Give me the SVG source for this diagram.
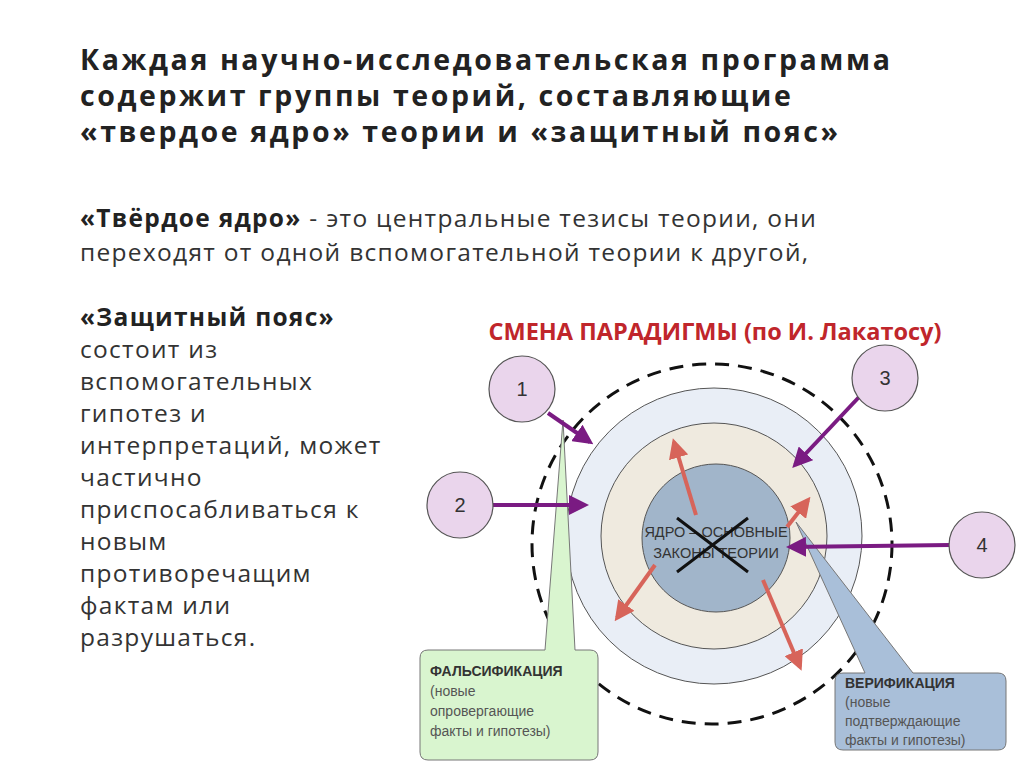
<svg xmlns="http://www.w3.org/2000/svg" width="1024" height="767" viewBox="0 0 1024 767">
<defs>
<style>
.h{font-family:"Open Sans","Liberation Sans",sans-serif;font-weight:bold;font-size:28.5px;letter-spacing:2.6px;fill:#222}
.b{font-family:"Open Sans","Liberation Sans",sans-serif;font-size:24.5px;letter-spacing:1.3px;fill:#333}
.bb{font-weight:bold;fill:#222}
.n{fill:#ead5ec;stroke:#555;stroke-width:1.2}
.nt{font-family:"Liberation Sans",sans-serif;font-size:20px;fill:#333;text-anchor:middle}
.pa{stroke:#7a1b82;stroke-width:4;marker-end:url(#pm)}
.ra{stroke:#d7645a;stroke-width:4;marker-end:url(#rm)}
.s{font-family:"Liberation Sans",sans-serif;font-size:14px;fill:#555}
</style>
<marker id="pm" viewBox="0 0 10 10" refX="8" refY="5" markerWidth="5" markerHeight="5" orient="auto"><path d="M0,0L10,5L0,10z" fill="#7a1b82"/></marker>
<marker id="rm" viewBox="0 0 10 10" refX="8" refY="5" markerWidth="5" markerHeight="5" orient="auto"><path d="M0,0L10,5L0,10z" fill="#d7645a"/></marker>
</defs>
<rect width="1024" height="767" fill="#fff"/>
<text class="h"><tspan x="80" y="70">Каждая научно-исследовательская программа</tspan><tspan x="80" y="106">содержит группы теорий, составляющие</tspan><tspan x="80" y="142">«твердое ядро» теории и «защитный пояс»</tspan></text>
<text class="b"><tspan x="80" y="227"><tspan class="bb">«Твёрдое ядро»</tspan> - это центральные тезисы теории, они</tspan><tspan x="80" y="261">переходят от одной вспомогательной теории к другой,</tspan></text>
<text class="b"><tspan x="80" y="326" class="bb">«Защитный пояс»</tspan><tspan x="80" y="358">состоит из</tspan><tspan x="80" y="390">вспомогательных</tspan><tspan x="80" y="422">гипотез и</tspan><tspan x="80" y="454">интерпретаций, может</tspan><tspan x="80" y="486">частично</tspan><tspan x="80" y="518">приспосабливаться к</tspan><tspan x="80" y="550">новым</tspan><tspan x="80" y="582">противоречащим</tspan><tspan x="80" y="614">фактам или</tspan><tspan x="80" y="646">разрушаться.</tspan></text>
<text x="715" y="340" text-anchor="middle" font-family="Open Sans, Liberation Sans, sans-serif" font-weight="bold" font-size="23.5" fill="#c0262b">СМЕНА ПАРАДИГМЫ (по И. Лакатосу)</text>
<g id="rings">
<circle cx="712" cy="544" r="180" fill="none" stroke="#111" stroke-width="3" stroke-dasharray="14 9"/>
<circle cx="714" cy="536" r="148" fill="#e9eef6" stroke="#555" stroke-width="1"/>
<circle cx="714" cy="536" r="113" fill="#efeadf" stroke="#555" stroke-width="1"/>
<circle cx="716" cy="538" r="74" fill="#a1b5ca" stroke="#555" stroke-width="1"/>
<text font-family="Liberation Sans, sans-serif" font-size="14.5" fill="#333" text-anchor="middle"><tspan x="716" y="537">ЯДРО – ОСНОВНЫЕ</tspan><tspan x="716" y="558">ЗАКОНЫ ТЕОРИИ</tspan></text>
<path d="M677,518L748,572M677,572L748,518" stroke="#111" stroke-width="3"/>
</g>
<g id="callouts">
<path d="M428,650H545L563,420L575,650H590Q598,650 598,658V752Q598,760 590,760H428Q420,760 420,752V658Q420,650 428,650z" fill="#d9f5cf" stroke="#777" stroke-width="1"/>
<text class="s"><tspan x="430" y="676" font-weight="bold" fill="#333">ФАЛЬСИФИКАЦИЯ</tspan><tspan x="430" y="696">(новые</tspan><tspan x="430" y="716">опровергающие</tspan><tspan x="430" y="736">факты и гипотезы)</tspan></text>
<path d="M843,673H865L796,522L913,673H998Q1006,673 1006,681V742Q1006,750 998,750H843Q835,750 835,742V681Q835,673 843,673z" fill="#a9bfd9" stroke="#777" stroke-width="1"/>
<text class="s"><tspan x="845" y="688" font-weight="bold" fill="#333">ВЕРИФИКАЦИЯ</tspan><tspan x="845" y="707">(новые</tspan><tspan x="845" y="726">подтверждающие</tspan><tspan x="845" y="745">факты и гипотезы)</tspan></text>
</g>
<g id="connectors">
<line class="pa" x1="548" y1="413" x2="590" y2="442"/>
<line class="pa" x1="493" y1="505" x2="585" y2="505"/>
<line class="pa" x1="860" y1="396" x2="795" y2="465"/>
<line class="pa" x1="950" y1="545" x2="790" y2="547"/>
<line class="ra" x1="696" y1="515" x2="674" y2="442"/>
<line class="ra" x1="787" y1="527" x2="808" y2="500"/>
<line class="ra" x1="655" y1="565" x2="617" y2="618"/>
<line class="ra" x1="763" y1="580" x2="800" y2="667"/>
</g>
<g id="n1"><circle class="n" cx="522" cy="389" r="33"/><text class="nt" x="522" y="396">1</text></g>
<g id="n2"><circle class="n" cx="460" cy="505" r="33"/><text class="nt" x="460" y="512">2</text></g>
<g id="n3"><circle class="n" cx="885" cy="378" r="33"/><text class="nt" x="885" y="385">3</text></g>
<g id="n4"><circle class="n" cx="982" cy="545" r="33"/><text class="nt" x="982" y="552">4</text></g>
</svg>
